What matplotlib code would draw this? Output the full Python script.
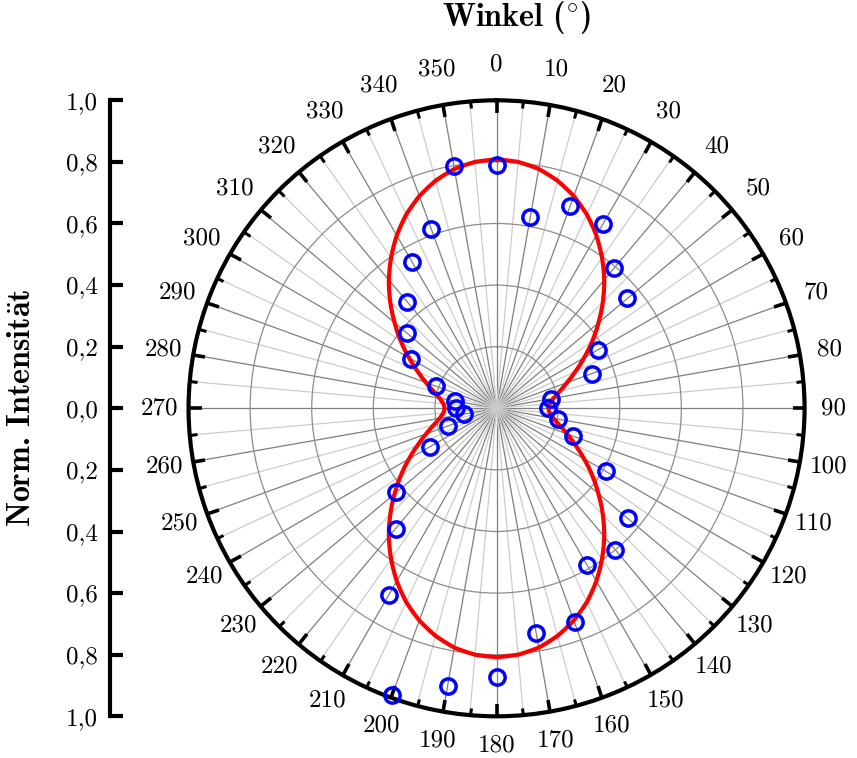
import numpy as np
import matplotlib
matplotlib.use('Agg')
import matplotlib.pyplot as plt

plt.rcParams['font.family'] = ['cmr10', 'DejaVu Serif']
plt.rcParams['mathtext.fontset'] = 'cm'
plt.rcParams['axes.unicode_minus'] = False

##-- Data --##

# measured points (angle in degree, normalised intensity)
meas_angle = np.arange(0, 360, 10)
meas_int = [0.79, 0.63, 0.70, 0.69, 0.595, 0.555, 0.38, 0.33, 0.18, 0.168,
            0.203, 0.264, 0.41, 0.556, 0.60, 0.586, 0.74, 0.742, 0.873, 0.917,
            0.99, 0.70, 0.51, 0.425, 0.25, 0.168, 0.107, 0.132, 0.138, 0.209,
            0.32, 0.38, 0.45, 0.547, 0.618, 0.80]

# fitted curve (every 5 degree)
fit_angle = np.arange(0, 365, 5)
fit_int = [0.808, 0.803, 0.789, 0.765, 0.733, 0.694, 0.648, 0.597, 0.544,
           0.488, 0.432, 0.379, 0.328, 0.282, 0.243, 0.211, 0.187, 0.173,
           0.168, 0.173, 0.187, 0.211, 0.243, 0.282, 0.328, 0.379, 0.432,
           0.488, 0.544, 0.597, 0.648, 0.694, 0.733, 0.765, 0.789, 0.803,
           0.808, 0.803, 0.789, 0.765, 0.733, 0.694, 0.648, 0.597, 0.544,
           0.488, 0.432, 0.379, 0.328, 0.282, 0.243, 0.211, 0.187, 0.173,
           0.168, 0.173, 0.187, 0.211, 0.243, 0.282, 0.328, 0.379, 0.432,
           0.488, 0.544, 0.597, 0.648, 0.694, 0.733, 0.765, 0.789, 0.803,
           0.808]

angle_labels = [str(a) for a in range(0, 360, 10)]
r_ticks = [0.2, 0.4, 0.6, 0.8]
left_ticks = [-1.0, -0.8, -0.6, -0.4, -0.2, 0.0, 0.2, 0.4, 0.6, 0.8, 1.0]
left_labels = ['1,0', '0,8', '0,6', '0,4', '0,2', '0,0',
               '0,2', '0,4', '0,6', '0,8', '1,0']

##-- Figure --##

fig = plt.figure(figsize=(8.57, 7.58), dpi=100)

# polar plot
ax = fig.add_axes([0.2200, 0.0550, 0.7188, 0.8127], projection='polar')
ax.set_theta_zero_location('N')
ax.set_theta_direction(-1)
ax.set_ylim(0, 1)
ax.set_yticks(r_ticks)
ax.set_yticklabels([])
ax.set_xticks(np.deg2rad(np.arange(0, 360, 10)))
ax.set_xticks(np.deg2rad(np.arange(5, 360, 10)), minor=True)
ax.set_xticklabels([])
ax.xaxis.grid(True, which='major', color='#7f7f7f', linewidth=0.9)
ax.xaxis.grid(True, which='minor', color='#cccccc', linewidth=0.9)
ax.yaxis.grid(True, color='#8c8c8c', linewidth=0.9)
# tick2 is the outer circle in polar axes
ax.tick_params(axis='x', which='both', bottom=False, top=True,
               direction='in', color='black')
ax.tick_params(axis='x', which='major', length=9, width=2.6)
ax.tick_params(axis='x', which='minor', length=5, width=2.2)
ax.spines['polar'].set_linewidth(3)

ln, = ax.plot(np.deg2rad(fit_angle), fit_int, color='red', linewidth=3,
              zorder=3)
ln.get_path()._interpolation_steps = 10
ax.plot(np.deg2rad(meas_angle), meas_int, linestyle='none', marker='o',
        markersize=11, markerfacecolor='none', markeredgecolor='blue',
        markeredgewidth=2.5, zorder=4, clip_on=False)

# angle labels, the upper ones sit a little further out
for a, lab in zip(range(0, 360, 10), angle_labels):
    r_lab = 1.095 + 0.022 * max(np.cos(np.deg2rad(a)), 0)
    ax.text(np.deg2rad(a), r_lab, lab, ha='center', va='center', fontsize=18,
            clip_on=False)

# linear intensity axis on the left
ax2 = fig.add_axes([110 / 857, 0.0550, 0.002, 0.8127])
ax2.set_ylim(-1, 1)
ax2.set_yticks(left_ticks)
ax2.set_yticklabels(left_labels, fontsize=18)
ax2.set_xticks([])
for s in ['top', 'right', 'bottom']:
    ax2.spines[s].set_visible(False)
ax2.spines['left'].set_linewidth(3)
ax2.tick_params(axis='y', direction='in', length=9, width=3, pad=9)
ax2.patch.set_visible(False)

fig.text(517 / 857, 0.977, r'Winkel ($^{\circ}$)', ha='center',
         va='center', fontsize=23, family='cmb10')
fig.text(22 / 857, 0.462, r'Norm. Intensit$\mathbf{\ddot{a}}$t', ha='center',
         va='center', rotation=90, fontsize=23, family='cmb10')

plt.savefig('out.png', dpi=100)
